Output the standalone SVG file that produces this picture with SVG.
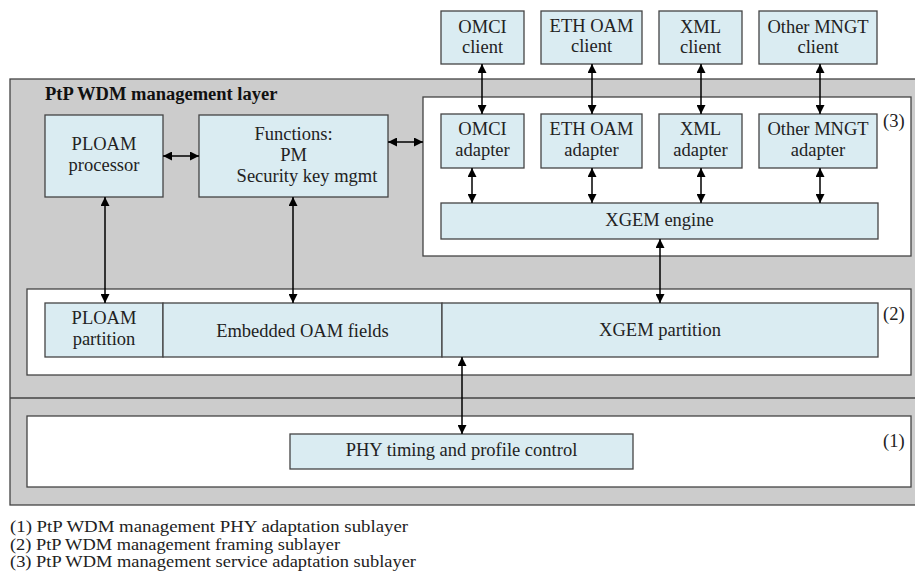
<svg xmlns="http://www.w3.org/2000/svg" width="915" height="580" viewBox="0 0 915 580">
  <defs>
    <marker id="ah" viewBox="0 0 10 10" refX="10" refY="5" markerWidth="9" markerHeight="9" markerUnits="userSpaceOnUse" orient="auto-start-reverse">
      <path d="M0,0 L10,5 L0,10 Z" fill="#000"/>
    </marker>
    <style>
      text { font-size: 18.5px; fill: #222; }
      .c { text-anchor: middle; }
      .title { font-weight: bold; fill: #111; }
      .legend text { font-size: 16px; }
      .layer { fill: #cccccc; stroke: #444; stroke-width: 1.3; }
      .sub { fill: #ffffff; stroke: #444; stroke-width: 1.3; }
      .box { fill: #daecf2; stroke: #444; stroke-width: 1.3; }
      .con line { stroke: #000; stroke-width: 1.5; marker-start: url(#ah); marker-end: url(#ah); }
    </style>
  </defs>
  <rect width="915" height="580" fill="#fff"/>

  <g font-family="'Liberation Serif', 'DejaVu Serif', 'Times New Roman', serif">
  <!-- management layer -->
  <g id="layer">
    <rect class="layer" x="10" y="79" width="910" height="426"/>
    <line x1="10" y1="398" x2="915" y2="398" stroke="#444" stroke-width="1.3"/>
    <text class="title" x="45" y="100">PtP WDM management layer</text>
  </g>

  <!-- sublayer frames -->
  <g id="sublayer3">
    <rect class="sub" x="423" y="97" width="488" height="159"/>
    <text x="883" y="127">(3)</text>
  </g>
  <g id="sublayer2">
    <rect class="sub" x="27" y="289" width="884" height="86"/>
    <text x="883" y="320">(2)</text>
  </g>
  <g id="sublayer1">
    <rect class="sub" x="27" y="416" width="884" height="71"/>
    <text x="883" y="447">(1)</text>
  </g>

  <!-- clients -->
  <g id="omci-client">
    <rect class="box" x="441" y="11" width="83" height="53"/>
    <text class="c" x="482.5" y="33">OMCI</text>
    <text class="c" x="482.5" y="53">client</text>
  </g>
  <g id="eth-client">
    <rect class="box" x="541" y="11" width="101" height="53"/>
    <text class="c" x="591.5" y="32">ETH OAM</text>
    <text class="c" x="591.5" y="52">client</text>
  </g>
  <g id="xml-client">
    <rect class="box" x="659" y="11" width="83" height="53"/>
    <text class="c" x="700.5" y="33">XML</text>
    <text class="c" x="700.5" y="53">client</text>
  </g>
  <g id="other-client">
    <rect class="box" x="759" y="11" width="118" height="53"/>
    <text class="c" x="818" y="33">Other MNGT</text>
    <text class="c" x="818" y="53">client</text>
  </g>

  <!-- adapters -->
  <g id="omci-adapter">
    <rect class="box" x="441" y="114" width="83" height="54"/>
    <text class="c" x="482.5" y="135">OMCI</text>
    <text class="c" x="482.5" y="156">adapter</text>
  </g>
  <g id="eth-adapter">
    <rect class="box" x="541" y="114" width="101" height="54"/>
    <text class="c" x="591.5" y="135">ETH OAM</text>
    <text class="c" x="591.5" y="156">adapter</text>
  </g>
  <g id="xml-adapter">
    <rect class="box" x="659" y="114" width="83" height="54"/>
    <text class="c" x="700.5" y="135">XML</text>
    <text class="c" x="700.5" y="156">adapter</text>
  </g>
  <g id="other-adapter">
    <rect class="box" x="759" y="114" width="118" height="54"/>
    <text class="c" x="818" y="135">Other MNGT</text>
    <text class="c" x="818" y="156">adapter</text>
  </g>

  <g id="xgem-engine">
    <rect class="box" x="441" y="203" width="437" height="36"/>
    <text class="c" x="659.5" y="226">XGEM engine</text>
  </g>

  <!-- management functions -->
  <g id="ploam-processor">
    <rect class="box" x="45" y="115" width="118" height="82"/>
    <text class="c" x="104" y="150">PLOAM</text>
    <text class="c" x="104" y="171">processor</text>
  </g>
  <g id="functions">
    <rect class="box" x="199" y="115" width="189" height="82"/>
    <text class="c" x="293.5" y="140">Functions:</text>
    <text class="c" x="293.5" y="161">PM</text>
    <text class="c" x="307" y="182">Security key mgmt</text>
  </g>

  <!-- framing partitions -->
  <g id="ploam-partition">
    <rect class="box" x="45" y="303" width="118" height="54"/>
    <text class="c" x="104" y="324">PLOAM</text>
    <text class="c" x="104" y="345">partition</text>
  </g>
  <g id="embedded-oam">
    <rect class="box" x="163" y="303" width="279" height="54"/>
    <text class="c" x="302.5" y="337">Embedded OAM fields</text>
  </g>
  <g id="xgem-partition">
    <rect class="box" x="442" y="303" width="436" height="54"/>
    <text class="c" x="660" y="336">XGEM partition</text>
  </g>

  <g id="phy-control">
    <rect class="box" x="290" y="434" width="343" height="35"/>
    <text class="c" x="461.5" y="456">PHY timing and profile control</text>
  </g>

  <!-- connectors -->
  <g id="connectors" class="con">
    <line x1="482" y1="64" x2="482" y2="114"/>
    <line x1="592" y1="64" x2="592" y2="114"/>
    <line x1="701" y1="64" x2="701" y2="114"/>
    <line x1="820" y1="64" x2="820" y2="114"/>
    <line x1="472" y1="168" x2="472" y2="203"/>
    <line x1="592" y1="168" x2="592" y2="203"/>
    <line x1="701" y1="168" x2="701" y2="203"/>
    <line x1="820" y1="168" x2="820" y2="203"/>
    <line x1="163" y1="156" x2="199" y2="156"/>
    <line x1="388" y1="142" x2="423" y2="142"/>
    <line x1="105" y1="197" x2="105" y2="303"/>
    <line x1="293" y1="197" x2="293" y2="303"/>
    <line x1="660" y1="239" x2="660" y2="303"/>
    <line x1="462" y1="357" x2="462" y2="434"/>
  </g>

  <!-- legend -->
  <g id="legend" class="legend">
    <text x="10" y="532" textLength="398" lengthAdjust="spacingAndGlyphs">(1) PtP WDM management PHY adaptation sublayer</text>
    <text x="10" y="550" textLength="330" lengthAdjust="spacingAndGlyphs">(2) PtP WDM management framing sublayer</text>
    <text x="10" y="567" textLength="406" lengthAdjust="spacingAndGlyphs">(3) PtP WDM management service adaptation sublayer</text>
  </g>
  </g>
</svg>
